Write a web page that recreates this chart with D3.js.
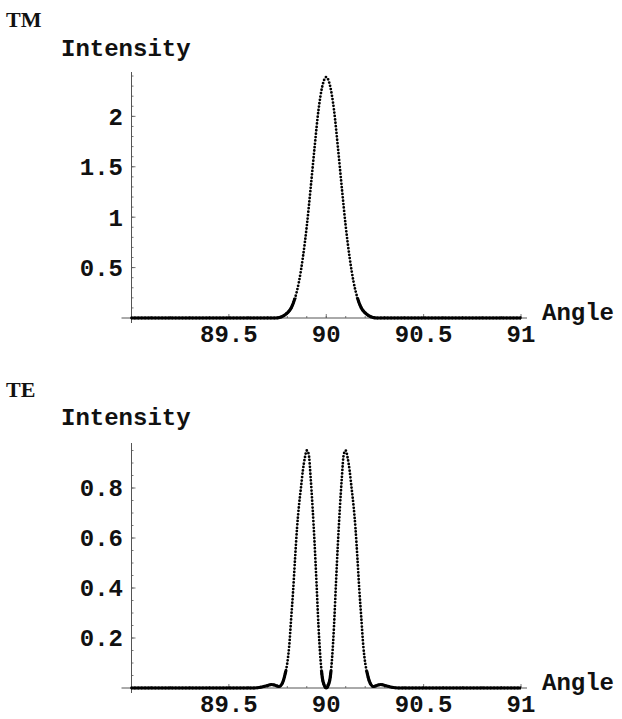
<!DOCTYPE html>
<html>
<head>
<meta charset="utf-8">
<script src="https://cdn.jsdelivr.net/npm/d3@7"></script>
<style>
  body { margin: 0; background: #fff; }
  #chart { width: 622px; height: 719px; }
  text.mono { font-family: "Liberation Mono", "Courier New", monospace; font-weight: bold; font-size: 24px; fill: #111; }
  text.title { font-family: "Liberation Serif", "Times New Roman", serif; font-weight: bold; font-size: 22px; fill: #111; }
</style>
</head>
<body>
<div id="chart"></div>
<script>
// TM curve
var tmAngle = [89, 89.70, 89.74, 89.76, 89.78, 89.80, 89.82, 89.84, 89.86, 89.88, 89.90, 89.92, 89.94, 89.96, 89.98,
               90, 90.02, 90.04, 90.06, 90.08, 90.10, 90.12, 90.14, 90.16, 90.18, 90.20, 90.22, 90.24, 90.26, 90.30, 91];
var tmIntensity = [0, 0, 0, 0.005, 0.02, 0.05, 0.10, 0.20, 0.36, 0.60, 0.91, 1.29, 1.69, 2.06, 2.30,
                   2.39, 2.30, 2.06, 1.69, 1.29, 0.91, 0.60, 0.36, 0.20, 0.10, 0.05, 0.02, 0.005, 0, 0, 0];

// TE curve
var teAngle = [89, 89.63, 89.67, 89.70, 89.72, 89.74, 89.76, 89.77, 89.78, 89.79, 89.80, 89.81, 89.82, 89.83, 89.84,
               89.85, 89.86, 89.87, 89.88, 89.89, 89.90, 89.91, 89.92, 89.93, 89.94, 89.95, 89.96, 89.97, 89.98, 89.99,
               90, 90.01, 90.02, 90.03, 90.04, 90.05, 90.06, 90.07, 90.08, 90.09, 90.10, 90.11, 90.12, 90.13, 90.14,
               90.15, 90.16, 90.17, 90.18, 90.19, 90.20, 90.21, 90.22, 90.23, 90.24, 90.26, 90.28, 90.30, 90.33, 90.37, 91];
var teIntensity = [0, 0, 0.004, 0.010, 0.014, 0.010, 0.006, 0.013, 0.03, 0.06, 0.10, 0.17, 0.28, 0.39, 0.52,
                   0.64, 0.73, 0.80, 0.87, 0.92, 0.95, 0.935, 0.84, 0.72, 0.58, 0.42, 0.25, 0.12, 0.04, 0.01,
                   0, 0.01, 0.04, 0.12, 0.25, 0.42, 0.58, 0.72, 0.84, 0.935, 0.95, 0.92, 0.87, 0.80, 0.73,
                   0.64, 0.52, 0.39, 0.28, 0.17, 0.10, 0.06, 0.03, 0.013, 0.006, 0.010, 0.014, 0.010, 0.004, 0, 0];

var xTicks = [89.5, 90, 90.5, 91];
var xTickLabels = ["89.5", "90", "90.5", "91"];
var tmYTicks = [0.5, 1, 1.5, 2];
var tmYTickLabels = ["0.5", "1", "1.5", "2"];
var teYTicks = [0.2, 0.4, 0.6, 0.8];
var teYTickLabels = ["0.2", "0.4", "0.6", "0.8"];

function drawPanel(svg, p) {
    var x = d3.scaleLinear().domain([89, 91]).range([131.5, 521]);
    var y = d3.scaleLinear().domain([0, p.yMax]).range([p.y0, p.yTop]);
    var g = svg.append("g");

    // axis lines (Mathematica style, thin, crossing at the origin)
    g.append("line")
        .attr("x1", x(89) - 10).attr("x2", x(91) + 6)
        .attr("y1", y(0)).attr("y2", y(0))
        .attr("stroke", "#555").attr("stroke-width", 1);
    g.append("line")
        .attr("x1", x(89)).attr("x2", x(89))
        .attr("y1", y(0) + 5).attr("y2", y(p.yMax))
        .attr("stroke", "#555").attr("stroke-width", 1);

    // minor + major ticks on x
    g.selectAll(".xminor")
        .data(d3.range(891, 911).map(function(d) { return d / 10; }))
        .enter().append("line")
        .attr("x1", function(d) { return x(d); }).attr("x2", function(d) { return x(d); })
        .attr("y1", y(0)).attr("y2", y(0) - 2)
        .attr("stroke", "#555").attr("stroke-width", 0.8);
    g.selectAll(".xmajor")
        .data(xTicks).enter().append("line")
        .attr("x1", function(d) { return x(d); }).attr("x2", function(d) { return x(d); })
        .attr("y1", y(0)).attr("y2", y(0) - 4)
        .attr("stroke", "#555").attr("stroke-width", 0.8);
    g.selectAll(".xlab")
        .data(xTicks).enter().append("text")
        .attr("class", "mono")
        .attr("x", function(d) { return x(d); })
        .attr("y", y(0) + 24)
        .attr("text-anchor", "middle")
        .text(function(d, i) { return xTickLabels[i]; });

    // y ticks
    g.selectAll(".yminor")
        .data(d3.range(1, Math.floor(p.yMax / p.yMinor) + 1).map(function(i) { return i * p.yMinor; }))
        .enter().append("line")
        .attr("x1", x(89)).attr("x2", x(89) + 2)
        .attr("y1", function(d) { return y(d); }).attr("y2", function(d) { return y(d); })
        .attr("stroke", "#555").attr("stroke-width", 0.8);
    g.selectAll(".ymajor")
        .data(p.yTicks).enter().append("line")
        .attr("x1", x(89)).attr("x2", x(89) + 4)
        .attr("y1", function(d) { return y(d); }).attr("y2", function(d) { return y(d); })
        .attr("stroke", "#555").attr("stroke-width", 0.8);
    g.selectAll(".ylab")
        .data(p.yTicks).enter().append("text")
        .attr("class", "mono")
        .attr("x", 123)
        .attr("y", function(d) { return y(d); })
        .attr("dy", "0.35em")
        .attr("text-anchor", "end")
        .text(function(d, i) { return p.yTickLabels[i]; });

    // labels
    g.append("text").attr("class", "title").attr("x", 6).attr("y", p.titleY).text(p.title);
    g.append("text").attr("class", "mono").attr("x", 61).attr("y", p.ylabY).text("Intensity");
    g.append("text").attr("class", "mono").attr("x", 542).attr("y", y(0) + 2).text("Angle");

    // the curve
    var pts = p.angle.map(function(a, i) { return [a, p.values[i]]; });
    var line = d3.line()
        .x(function(d) { return x(d[0]); })
        .y(function(d) { return y(d[1]); })
        .curve(d3.curveMonotoneX);

    // near the baseline the samples merge into a solid thick line
    var clipId = "clip" + p.title;
    svg.append("clipPath").attr("id", clipId)
        .append("rect")
        .attr("x", 0).attr("y", y(p.solidBelow))
        .attr("width", 622).attr("height", y(0) - y(p.solidBelow) + 4);
    g.append("path")
        .datum(pts)
        .attr("d", line)
        .attr("clip-path", "url(#" + clipId + ")")
        .attr("fill", "none")
        .attr("stroke", "#000")
        .attr("stroke-width", 3.2);
    g.append("path")
        .datum(pts)
        .attr("d", line)
        .attr("fill", "none")
        .attr("stroke", "#000")
        .attr("stroke-width", 2.8)
        .attr("stroke-linecap", "round")
        .attr("stroke-dasharray", "0,3.4");
}

function init() {
    var svg = d3.select("#chart").append("svg")
                .attr("width", 622)
                .attr("height", 719);

    svg.append("rect").attr("width", 622).attr("height", 719).attr("fill", "#fff");

    drawPanel(svg, {
        title: "TM", titleY: 27, ylabY: 56,
        angle: tmAngle, values: tmIntensity,
        yMax: 2.44, y0: 318, yTop: 72,
        yTicks: tmYTicks, yTickLabels: tmYTickLabels, yMinor: 0.1,
        solidBelow: 0.2
    });
    drawPanel(svg, {
        title: "TE", titleY: 397, ylabY: 425,
        angle: teAngle, values: teIntensity,
        yMax: 0.98, y0: 688, yTop: 443,
        yTicks: teYTicks, yTickLabels: teYTickLabels, yMinor: 0.05,
        solidBelow: 0.07
    });
}

window.onload = init;
</script>
</body>
</html>
